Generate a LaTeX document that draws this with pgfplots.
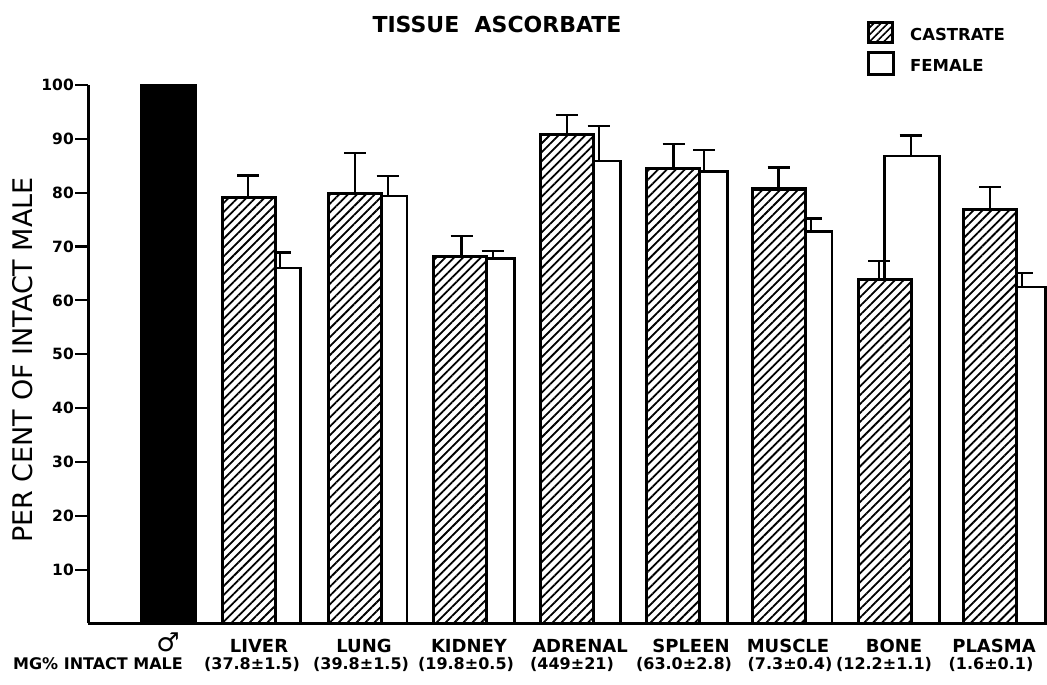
\documentclass[border=0pt]{standalone}
\usepackage{fontspec}
\setmainfont{DejaVu Sans}
\usepackage{pgfplots}
\pgfplotsset{compat=1.18}
\usetikzlibrary{patterns.meta}

\begin{document}
\begin{tikzpicture}
\useasboundingbox (0,0) rectangle (1047pt,685pt);
\begin{axis}[
 at={(88pt,61.5pt)}, anchor=south west,
 scale only axis, width=959pt, height=538.5pt,
 xmin=88, xmax=1047, ymin=0, ymax=100,
 axis x line=bottom, axis y line=left,
 axis line style={-, line width=3pt},
 xtick=\empty,
 ytick={10,20,...,100},
 tick align=outside, major tick length=13pt,
 tick style={line width=2.2pt, black},
 yticklabel style={font=\bfseries\fontsize{15.5}{15.5}\selectfont, inner sep=1pt},
 /pgf/number format/assume math mode=true,
 clip=false,
]
% female bars (behind)
\addplot[ybar, bar width=55, bar shift=0pt, draw=black, line width=2.8pt, fill=white]
 coordinates {(272.7,66.0) (379.4,79.4) (487,67.8) (592.7,85.9) (700,83.9) (804.4,72.8) (911.7,86.8) (1017.7,62.5)};
% female error bars
\addplot[draw=none, no markers, error bars/.cd, y dir=plus, y explicit,
 error bar style={draw=black, line width=2.3pt},
 error mark options={draw=black, rotate=90, mark size=11pt, line width=2.3pt}]
 coordinates {(280,66.0) +- (0,2.9) (387.7,79.4) +- (0,3.7) (492.7,67.8) +- (0,1.4) (598.7,85.9) +- (0,6.5)
 (704.3,83.9) +- (0,4.0) (810.7,72.8) +- (0,2.4) (910.7,86.8) +- (0,3.8) (1021.7,62.5) +- (0,2.6)};
% castrate bars
\addplot[ybar, bar width=53, bar shift=0pt, draw=black, line width=3.3pt, fill=white,
 postaction={pattern={Lines[angle=45,distance=6.3pt,line width=1.8pt]}}]
 coordinates {(249.3,79.1) (355.2,79.9) (460.3,68.1) (566.7,90.8) (672.8,84.5) (779.2,80.7) (884.7,63.9) (990.2,76.9)};
% castrate error bars
\addplot[draw=none, no markers, error bars/.cd, y dir=plus, y explicit,
 error bar style={draw=black, line width=2.3pt},
 error mark options={draw=black, rotate=90, mark size=11pt, line width=2.3pt}]
 coordinates {(248,79.1) +- (0,4.1) (355,79.9) +- (0,7.5) (461.5,68.1) +- (0,3.9) (566.7,90.8) +- (0,3.6)
 (673.5,84.5) +- (0,4.5) (778.5,80.7) +- (0,4.0) (879.3,63.9) +- (0,3.4) (990,76.9) +- (0,4.2)};
% intact male
\addplot[ybar, bar width=56, bar shift=0pt, fill=black, draw=black, line width=1pt]
 coordinates {(168,100)};
\end{axis}

% title
\node[anchor=base, inner sep=0pt, font=\fontsize{22}{22}\selectfont] at (497pt,652pt) {\textbf{TISSUE\ \ ASCORBATE}};
% y label
\node[rotate=90, inner sep=0pt, font=\fontsize{27}{27}\selectfont] at (23pt,325pt) {PER CENT OF INTACT MALE};
% legend
\draw[line width=3pt, fill=white, postaction={pattern={Lines[angle=45,distance=5pt,line width=1.6pt]}}]
 (868pt,642pt) rectangle (892pt,662pt);
\draw[line width=3pt] (868pt,610pt) rectangle (893pt,632pt);
\node[anchor=base west, inner sep=0pt, font=\bfseries\fontsize{16.5}{16.5}\selectfont] at (910pt,644pt) {CASTRATE};
\node[anchor=base west, inner sep=0pt, font=\bfseries\fontsize{16.5}{16.5}\selectfont] at (910pt,613pt) {FEMALE};
% category labels
\begin{scope}[every node/.style={anchor=base, inner sep=0pt, font=\bfseries\fontsize{18}{18}\selectfont}]
\node[font=\bfseries\fontsize{26}{26}\selectfont] at (168pt,33pt) {♂};
\node at (259pt,32pt) {LIVER};
\node at (364pt,32pt) {LUNG};
\node at (469pt,32pt) {KIDNEY};
\node at (580pt,32pt) {ADRENAL};
\node at (691pt,32pt) {SPLEEN};
\node at (788pt,32pt) {MUSCLE};
\node at (894pt,32pt) {BONE};
\node at (994pt,32pt) {PLASMA};
\end{scope}
\begin{scope}[every node/.style={anchor=base, inner sep=0pt, font=\bfseries\fontsize{16}{16}\selectfont}]
\node at (98pt,15pt) {MG\% INTACT MALE};
\node at (252pt,15pt) {(37.8±1.5)};
\node at (361pt,15pt) {(39.8±1.5)};
\node at (466pt,15pt) {(19.8±0.5)};
\node at (572pt,15pt) {(449±21)};
\node at (684pt,15pt) {(63.0±2.8)};
\node at (790pt,15pt) {(7.3±0.4)};
\node at (884pt,15pt) {(12.2±1.1)};
\node at (991pt,15pt) {(1.6±0.1)};
\end{scope}
\end{tikzpicture}
\end{document}
